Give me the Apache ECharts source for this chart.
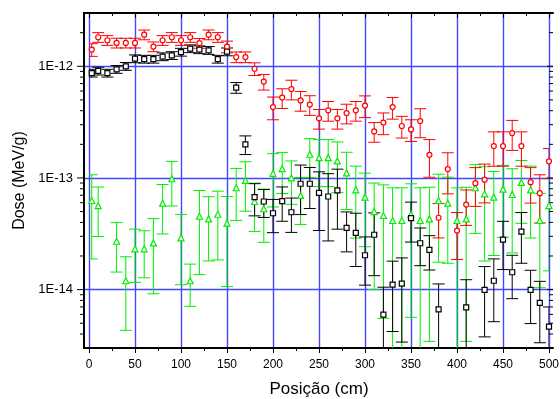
<!DOCTYPE html>
<html>
<head>
<meta charset="utf-8">
<script src="https://cdn.jsdelivr.net/npm/echarts@6/dist/echarts.min.js"></script>
<style>
  html, body { margin: 0; padding: 0; background: #fff; }
  #chart { width: 560px; height: 399px; }
</style>
</head>
<body>
<div id="chart"></div>
<script>
// posicao (cm) dos pontos
const positions = [3, 10, 20, 30, 40, 50, 60, 70, 80, 90,
  100, 110, 120, 130, 140, 150, 160, 170, 180, 190,
  200, 210, 220, 230, 240, 250, 260, 270, 280, 290,
  300, 310, 320, 330, 340, 350, 360, 370, 380, 390,
  400, 410, 420, 430, 440, 450, 460, 470, 480, 490, 500];

// vermelho (circulos)
const redDose = [1.41e-12, 1.82e-12, 1.71e-12, 1.62e-12, 1.62e-12, 1.62e-12, 1.92e-12, 1.50e-12, 1.71e-12, 1.82e-12,
  1.71e-12, 1.82e-12, 1.61e-12, 1.92e-12, 1.82e-12, 1.50e-12, 1.21e-12, 1.21e-12, 9.5e-13, 7.29e-13,
  4.31e-13, 5.24e-13, 6.25e-13, 4.95e-13, 4.54e-13, 3.42e-13, 4.03e-13, 3.42e-13, 3.81e-13, 4.03e-13,
  4.45e-13, 2.61e-13, 3.13e-13, 4.31e-13, 2.92e-13, 2.72e-13, 3.23e-13, 1.61e-13, 4.4e-14, 1.2e-13,
  3.38e-14, 5.78e-14, 8.97e-14, 9.64e-14, 1.93e-13, 1.93e-13, 2.52e-13, 1.93e-13, 9.16e-14, 7.31e-14, 1.41e-13];
const redErr = [0.13, 0.1, 0.1, 0.1, 0.1, 0.1, 0.1, 0.1, 0.1, 0.1,
  0.1, 0.1, 0.1, 0.1, 0.1, 0.12, 0.11, 0.11, 0.13, 0.16,
  0.23, 0.2, 0.2, 0.2, 0.2, 0.2, 0.2, 0.2, 0.2, 0.2,
  0.22, 0.2, 0.22, 0.22, 0.22, 0.22, 0.29, 0.37, 0.34, 0.4,
  0.45, 0.35, 0.38, 0.38, 0.34, 0.34, 0.3, 0.34, 0.35, 0.46, 0.3];

// preto (quadrados)
const blackDose = [8.7e-13, 9.08e-13, 8.7e-13, 9.4e-13, 1.0e-12, 1.17e-12, 1.16e-12, 1.16e-12, 1.22e-12, 1.25e-12,
  1.34e-12, 1.44e-12, 1.41e-12, 1.39e-12, 1.16e-12, 1.35e-12, 6.44e-13, 2.0e-13, 6.73e-14, 6.15e-14,
  4.83e-14, 6.2e-14, 4.93e-14, 8.87e-14, 8.87e-14, 7.36e-14, 6.82e-14, 7.73e-14, 3.57e-14, 3.22e-14,
  2.03e-14, 3.1e-14, 5.97e-15, 1.11e-14, 1.13e-14, 4.37e-14, 2.6e-14, 2.27e-14, 6.65e-15, null,
  null, 6.93e-15, null, 9.93e-15, 1.2e-14, 2.8e-14, 1.43e-14, 3.31e-14, 9.93e-15, 7.6e-15, 4.66e-15];
const blackErr = [0.08, 0.08, 0.08, 0.08, 0.08, 0.08, 0.08, 0.08, 0.08, 0.08,
  0.08, 0.08, 0.08, 0.08, 0.08, 0.08, 0.11, 0.19, 0.32, 0.28,
  0.33, 0.34, 0.34, 0.47, 0.4, 0.54, 0.6, 0.55, 0.39, 0.5,
  0.46, 0.57, 0.76, 0.62, 0.7, 0.39, 0.37, 0.34, 0.69, 0,
  0, 0.77, 0, 0.62, 0.57, 0.46, 0.42, 0.48, 0.5, 0.56, 0.5];

// verde (triangulos)
const greenDose = [6.28e-14, 5.64e-14, null, 2.71e-14, 1.2e-14, 2.32e-14, 2.32e-14, 2.62e-14, 5.94e-14, 9.84e-14,
  2.91e-14, 1.2e-14, 4.54e-14, 4.3e-14, 4.73e-14, 3.94e-14, 8.17e-14, 9.5e-14, 6.15e-14, 5.3e-14,
  1.1e-13, 1.21e-13, 1.0e-13, 6.97e-14, 1.63e-13, 1.52e-13, 1.52e-13, 1.42e-13, 1.11e-13, 7.83e-14,
  6.73e-14, 5.0e-14, 4.61e-14, 4.16e-14, 4.16e-14, 4.71e-14, 4.16e-14, 4.3e-14, 6.28e-14, 5.94e-14,
  4.16e-14, 4.3e-14, 8.17e-14, 7.21e-14, 6.73e-14, 7.94e-14, 7.11e-14, 9.12e-14, 7.83e-14, 4.16e-14, 5.66e-14];
const greenErr = [0.7, 0.47, 0, 0.47, 0.64, 0.5, 0.45, 0.65, 0.47, 0.43,
  0.62, 0.41, 0.7, 0.58, 0.61, 0.73, 0.49, 0.47, 0.46, 0.5,
  0.5, 0.4, 0.42, 0.45, 0.38, 0.45, 0.45, 0.48, 0.53, 0.63,
  0.64, 0.8, 0.88, 0.96, 0.96, 0.88, 0.96, 0.92, 0.72, 0.71,
  0.96, 0.92, 0.61, 0.75, 0.7, 0.63, 0.7, 0.57, 0.63, 0.75, 0.74];

const yTicks = [4e-15, 5e-15, 6e-15, 7e-15, 8e-15, 9e-15,
  1e-14, 2e-14, 3e-14, 4e-14, 5e-14, 6e-14, 7e-14, 8e-14, 9e-14,
  1e-13, 2e-13, 3e-13, 4e-13, 5e-13, 6e-13, 7e-13, 8e-13, 9e-13,
  1e-12, 2e-12];

const yMin = 3e-15;
const yMax = 3e-12;
const font = 'Liberation Sans, Arial, sans-serif';
const gridBlue = '#4646ff';

function isDecade(v) {
  const l = Math.log10(v);
  return Math.abs(l - Math.round(l)) < 1e-6;
}

function pointData(vals) {
  const out = [];
  vals.forEach((v, i) => { if (v != null) out.push([positions[i], v]); });
  return out;
}

function errorData(vals, errs) {
  const out = [];
  vals.forEach((v, i) => {
    if (v == null) return;
    const lo = Math.max(v * (1 - errs[i]), 1e-17);
    out.push([positions[i], lo, v * (1 + errs[i])]);
  });
  return out;
}

function errorSeries(vals, errs, color) {
  return {
    type: 'custom',
    xAxisIndex: 2,
    yAxisIndex: 2,
    clip: true,
    silent: true,
    encode: { x: 0, y: [1, 2] },
    data: errorData(vals, errs),
    renderItem: function (params, api) {
      const x = api.value(0);
      const top = api.coord([x, api.value(2)]);
      const bot = api.coord([x, api.value(1)]);
      const w = 6;
      const style = { stroke: color, lineWidth: 1 };
      return {
        type: 'group',
        children: [
          { type: 'line', shape: { x1: top[0], y1: top[1], x2: bot[0], y2: bot[1] }, style: style },
          { type: 'line', shape: { x1: top[0] - w, y1: top[1], x2: top[0] + w, y2: top[1] }, style: style },
          { type: 'line', shape: { x1: bot[0] - w, y1: bot[1], x2: bot[0] + w, y2: bot[1] }, style: style }
        ]
      };
    }
  };
}

function markerSeries(vals, symbol, size, color) {
  return {
    type: 'scatter',
    xAxisIndex: 2,
    yAxisIndex: 2,
    symbol: symbol,
    symbolSize: size,
    silent: true,
    itemStyle: { color: '#ffffff', borderColor: color, borderWidth: 1.2, opacity: 1 },
    data: pointData(vals)
  };
}

const chart = echarts.init(document.getElementById('chart'), null, { renderer: 'canvas' });

const frameLine = { show: true, lineStyle: { color: '#000', width: 2 } };
const blueLine = { show: true, lineStyle: { color: gridBlue, width: 1.4, type: 'solid' } };

const option = {
  animation: false,
  backgroundColor: '#ffffff',
  grid: [
    { left: 84, top: 13, width: 469, height: 335, outerBoundsMode: 'none' },
    { left: 89, top: 13, width: 460, height: 335, outerBoundsMode: 'none' }
  ],
  xAxis: [
    { gridIndex: 0, type: 'value', min: 0, max: 1, position: 'bottom',
      axisLine: frameLine, axisTick: { show: false }, axisLabel: { show: false }, splitLine: { show: false } },
    { gridIndex: 0, type: 'value', min: 0, max: 1, position: 'top',
      axisLine: frameLine, axisTick: { show: false }, axisLabel: { show: false }, splitLine: { show: false } },
    { gridIndex: 1, type: 'value', min: 0, max: 500, interval: 50, position: 'bottom',
      name: 'Posição (cm)', nameLocation: 'middle', nameGap: 33,
      nameTextStyle: { fontFamily: font, fontSize: 17, color: '#000' },
      axisLine: { show: false },
      axisTick: { show: true, inside: false, length: 5, lineStyle: { color: '#000', width: 1 } },
      minorTick: { show: true, splitNumber: 2, length: 3, lineStyle: { color: '#000', width: 1 } },
      axisLabel: { show: true, margin: 11, fontFamily: font, fontSize: 12, color: '#000' },
      splitLine: blueLine },
    { gridIndex: 1, type: 'value', min: 0, max: 500, interval: 50, position: 'top',
      axisLine: { show: false },
      axisTick: { show: true, inside: true, length: 5, lineStyle: { color: '#000', width: 1 } },
      minorTick: { show: true, splitNumber: 2, length: 3, lineStyle: { color: '#000', width: 1 } },
      axisLabel: { show: false }, splitLine: { show: false } }
  ],
  yAxis: [
    { gridIndex: 0, type: 'log', logBase: 10, min: yMin, max: yMax, position: 'left',
      name: 'Dose (MeV/g)', nameLocation: 'middle', nameGap: 52,
      nameTextStyle: { fontFamily: font, fontSize: 16, color: '#000' },
      axisLine: frameLine, axisTick: { show: false },
      axisLabel: { show: true, margin: 11, fontFamily: font, fontSize: 13, color: '#000',
        showMinLabel: false, showMaxLabel: false,
        formatter: function (v) { return isDecade(v) ? '1E' + Math.round(Math.log10(v)) : ''; } },
      splitLine: { show: false } },
    { gridIndex: 0, type: 'log', logBase: 10, min: yMin, max: yMax, position: 'right',
      axisLine: frameLine, axisTick: { show: false }, axisLabel: { show: false },
      splitLine: { show: true, showMinLine: false, showMaxLine: false, lineStyle: { color: gridBlue, width: 1.4 } } },
    { gridIndex: 1, type: 'log', logBase: 10, min: yMin, max: yMax, show: false }
  ],
  series: [
    // marcas do eixo y (decadas e subdivisoes 2..9)
    {
      type: 'custom',
      xAxisIndex: 0,
      yAxisIndex: 0,
      clip: false,
      silent: true,
      data: yTicks.map(v => [0, v]),
      encode: { x: 0, y: 1 },
      renderItem: function (params, api) {
        const v = api.value(1);
        const l = api.coord([0, v]);
        const r = api.coord([1, v]);
        const major = isDecade(v);
        const outLen = major ? 7 : 4;
        const inLen = major ? 6 : 4;
        const style = { stroke: '#000', lineWidth: 1 };
        return {
          type: 'group',
          children: [
            { type: 'line', shape: { x1: l[0] - outLen, y1: l[1], x2: l[0], y2: l[1] }, style: style },
            { type: 'line', shape: { x1: r[0] - inLen, y1: r[1], x2: r[0], y2: r[1] }, style: style }
          ]
        };
      }
    },
    errorSeries(greenDose, greenErr, '#00ee00'),
    markerSeries(greenDose, 'triangle', 6, '#00ee00'),
    errorSeries(blackDose, blackErr, '#000000'),
    markerSeries(blackDose, 'rect', 5, '#000000'),
    errorSeries(redDose, redErr, '#ff0000'),
    markerSeries(redDose, 'circle', 5, '#ff0000')
  ]
};

chart.setOption(option);
</script>
</body>
</html>
